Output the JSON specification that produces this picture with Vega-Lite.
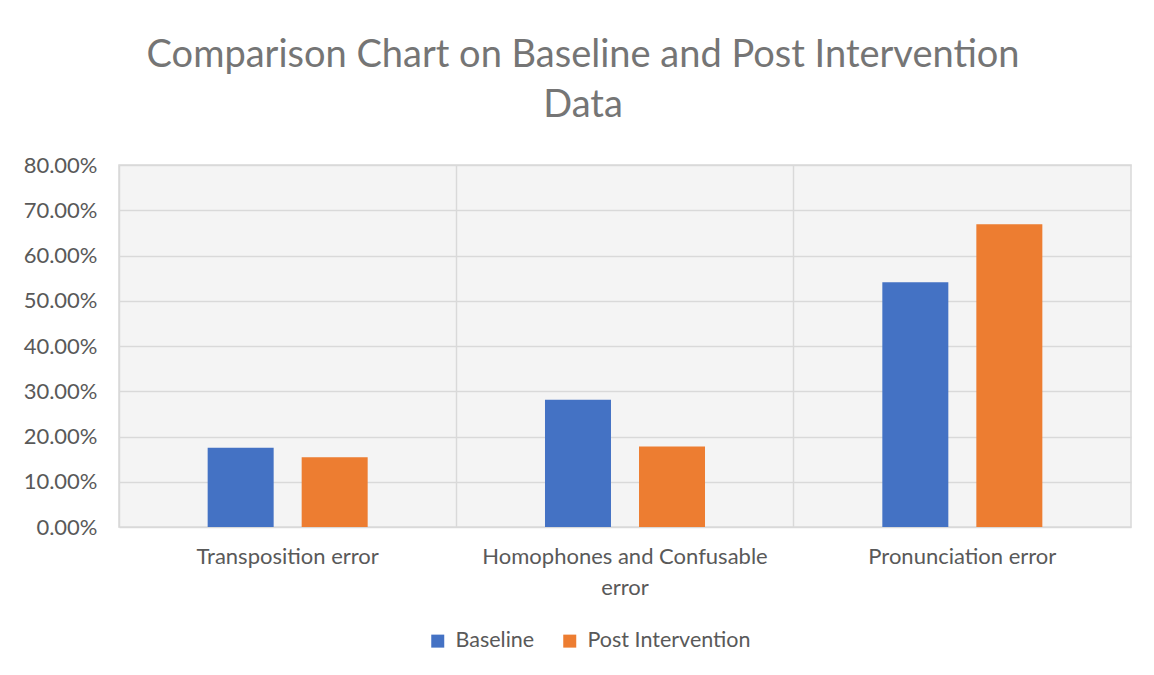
{
  "$schema": "https://vega.github.io/schema/vega-lite/v6.json",
  "autosize": "none",
  "width": 1012,
  "height": 362,
  "padding": {"left": 119, "top": 165, "right": 23, "bottom": 148},
  "background": "white",
  "title": {
    "text": ["Comparison Chart on Baseline and Post Intervention", "Data"],
    "font": "Lato",
    "fontSize": 38,
    "fontWeight": "normal",
    "color": "#757575",
    "lineHeight": 50,
    "anchor": "middle",
    "frame": "bounds",
    "offset": 29,
    "dx": 6
  },
  "data": {
    "values": [
      {"category": "Transposition error", "series": "Baseline", "value": 0.175},
      {"category": "Transposition error", "series": "Post Intervention", "value": 0.154},
      {"category": "Homophones and Confusable error", "series": "Baseline", "value": 0.281},
      {"category": "Homophones and Confusable error", "series": "Post Intervention", "value": 0.178},
      {"category": "Pronunciation error", "series": "Baseline", "value": 0.541},
      {"category": "Pronunciation error", "series": "Post Intervention", "value": 0.669}
    ]
  },
  "mark": {"type": "bar"},
  "encoding": {
    "x": {
      "field": "category",
      "type": "nominal",
      "sort": null,
      "scale": {"paddingInner": 0, "paddingOuter": 0},
      "axis": {
        "title": null,
        "labelAngle": 0,
        "labelFont": "Lato",
        "labelFontSize": 22,
        "labelColor": "#595959",
        "labelPadding": 19,
        "labelLineHeight": 31,
        "labelBaseline": "top",
        "labelLimit": 0,
        "labelExpr": "datum.value == 'Homophones and Confusable error' ? ['Homophones and Confusable', 'error'] : datum.value",
        "ticks": false,
        "domain": false,
        "grid": true,
        "bandPosition": 0,
        "gridColor": "#d9d9d9",
        "gridWidth": 1.5
      }
    },
    "xOffset": {
      "field": "series",
      "type": "nominal",
      "sort": ["Baseline", "Post Intervention"],
      "scale": {"paddingInner": 0.298, "paddingOuter": 0.943}
    },
    "y": {
      "field": "value",
      "type": "quantitative",
      "scale": {"domain": [0, 0.8], "nice": false},
      "axis": {
        "title": null,
        "values": [0, 0.1, 0.2, 0.3, 0.4, 0.5, 0.6, 0.7, 0.8],
        "format": ".2%",
        "labelFont": "Lato",
        "labelFontSize": 22,
        "labelColor": "#595959",
        "labelPadding": 22,
        "ticks": false,
        "domain": false,
        "grid": true,
        "gridColor": "#d9d9d9",
        "gridWidth": 1.5
      }
    },
    "color": {
      "field": "series",
      "type": "nominal",
      "sort": ["Baseline", "Post Intervention"],
      "scale": {"domain": ["Baseline", "Post Intervention"], "range": ["#4472C4", "#ED7D31"]},
      "legend": {
        "title": null,
        "orient": "none",
        "direction": "horizontal",
        "legendX": 308,
        "legendY": 465,
        "symbolType": "square",
        "symbolSize": 169,
        "symbolStrokeWidth": 0,
        "labelFont": "Lato",
        "labelFontSize": 21.5,
        "labelColor": "#595959",
        "labelOffset": 7,
        "labelLimit": 0,
        "columnPadding": 24
      }
    }
  },
  "config": {
    "view": {"fill": "#f4f4f4", "stroke": "#d9d9d9", "strokeWidth": 1.5}
  }
}
